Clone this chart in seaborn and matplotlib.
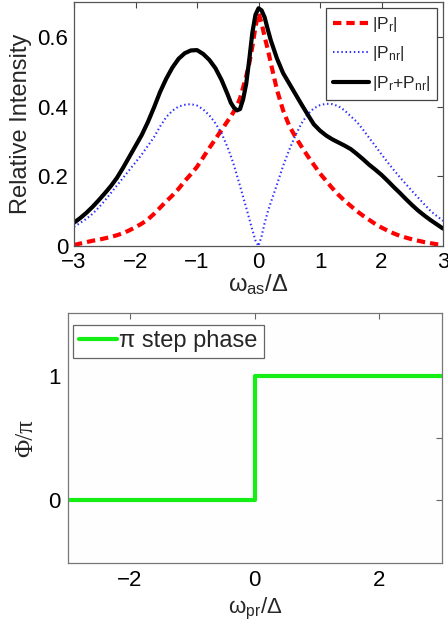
import numpy as np
import pandas as pd
import matplotlib
matplotlib.use("Agg")
import matplotlib.pyplot as plt
import seaborn as sns

# ---------------- data ----------------
omega_as = [-3.0, -2.9, -2.8, -2.7, -2.6, -2.5, -2.4, -2.3, -2.2, -2.1,
            -2.0, -1.9, -1.8, -1.7, -1.6, -1.5, -1.4, -1.3, -1.2, -1.1,
            -1.0, -0.9, -0.8, -0.7, -0.6, -0.5, -0.45, -0.4, -0.35, -0.3,
            -0.25, -0.2, -0.15, -0.1, -0.05, 0.0, 0.05, 0.1, 0.15, 0.2,
            0.3, 0.4, 0.5, 0.6, 0.7, 0.8, 0.9, 1.0, 1.1, 1.2,
            1.3, 1.4, 1.5, 1.6, 1.7, 1.8, 1.9, 2.0, 2.1, 2.2,
            2.3, 2.4, 2.5, 2.6, 2.7, 2.8, 2.9, 3.0]
p_sum = [.067, .080, .095, .112, .131, .151, .172, .196, .225, .256,
         .287, .318, .355, .397, .442, .480, .512, .537, .553, .561,
         .562, .551, .534, .510, .476, .434, .411, .397, .389, .393,
         .421, .465, .535, .612, .663, .682, .676, .656, .622, .590,
         .538, .496, .466, .436, .406, .377, .349, .331, .317, .306,
         .297, .288, .278, .264, .249, .233, .219, .204, .187, .169,
         .152, .134, .117, .101, .087, .074, .062, .050]
p_r = [.003, .007, .011, .015, .018, .022, .026, .031, .037, .045,
       .054, .064, .076, .092, .110, .128, .145, .164, .186, .206,
       .227, .254, .281, .307, .333, .359, .372, .386, .402, .424,
       .455, .487, .524, .572, .628, .668, .640, .600, .565, .525,
       .448, .389, .345, .313, .285, .258, .233, .208, .187, .166,
       .147, .130, .115, .100, .087, .075, .063, .053, .044, .036,
       .029, .024, .019, .015, .011, .008, .005, .003]
p_nr = [.055, .066, .078, .092, .110, .130, .152, .174, .196, .218,
        .240, .262, .287, .312, .343, .370, .388, .400, .405, .407,
        .403, .392, .375, .352, .323, .282, .258, .232, .202, .172,
        .141, .110, .078, .046, .016, .000, .028, .066, .098, .125,
        .176, .230, .276, .317, .352, .378, .395, .404, .408, .407,
        .401, .389, .372, .356, .334, .310, .287, .263, .240, .218,
        .197, .177, .157, .138, .119, .100, .086, .072]

omega_pr = [-3.0, 0.0, 0.0, 3.0]
phase = [0.0, 0.0, 1.0, 1.0]

top_xticks = [-3, -2, -1, 0, 1, 2, 3]
top_yticks = [0, 0.2, 0.4, 0.6]
top_yticklabels = ["0", "0.2", "0.4", "0.6"]
bot_xticks = [-2, 0, 2]
bot_yticks = [0, 0.5, 1]
bot_yticklabels = ["0", "", "1"]

# ---------------- style ----------------
sns.set_style("white")
plt.rcParams["font.family"] = ["Liberation Sans", "DejaVu Sans"]
plt.rcParams["mathtext.fontset"] = "custom"
plt.rcParams["mathtext.rm"] = "Liberation Sans"
plt.rcParams["mathtext.it"] = "Liberation Sans"
plt.rcParams["mathtext.default"] = "regular"

fig = plt.figure(figsize=(4.48, 6.31), dpi=100)
fig.patch.set_facecolor("white")

def minus(t):
    return str(t) if t >= 0 else "\u2212" + str(-t)

# ---------------- top panel ----------------
ax1 = fig.add_axes([74 / 448, 1 - 246 / 631, (443 - 74) / 448, 244 / 631])
df = pd.DataFrame({"x": omega_as, "r": p_r, "nr": p_nr, "sum": p_sum})
sns.lineplot(data=df, x="x", y="r", ax=ax1, color="#ff0000", lw=3.0,
             label="|P$_r$|", estimator=None, sort=False)
ax1.lines[-1].set_dashes((2.0, 1.2))
sns.lineplot(data=df, x="x", y="nr", ax=ax1, color="#3030ff", lw=1.5,
             label="|P$_{nr}$|", estimator=None, sort=False)
ax1.lines[-1].set_linestyle((0, (0.7, 1.3)))
sns.lineplot(data=df, x="x", y="sum", ax=ax1, color="black", lw=3.0,
             label="|P$_r$+P$_{nr}$|", estimator=None, sort=False)
for ln in ax1.lines:
    ln.set_solid_joinstyle("round")
    ln.set_dash_joinstyle("round")

ax1.set_xlim(-3, 3)
ax1.set_ylim(0, 0.7)
ax1.set_xticks(top_xticks)
ax1.set_xticklabels([minus(t) for t in top_xticks])
ax1.set_yticks(top_yticks)
ax1.set_yticklabels(top_yticklabels)
ax1.tick_params(direction="in", length=4, width=0.8, colors="#444444",
                labelcolor="black", labelsize=16, top=True, right=True, pad=4)
for s in ax1.spines.values():
    s.set_color("#555555")
    s.set_linewidth(0.9)
ax1.set_xlabel("\u03c9$_{as}$/\u0394", fontsize=17, labelpad=0)
ax1.set_ylabel("Relative Intensity", fontsize=17, labelpad=4)
leg1 = ax1.legend(loc="upper right", fontsize=12.5, frameon=True, fancybox=False,
                  edgecolor="#444444", framealpha=1, handlelength=2.1,
                  handletextpad=0.15, borderpad=0.4, labelspacing=0.6,
                  bbox_to_anchor=(0.985, 0.975), borderaxespad=0)
leg1.get_frame().set_linewidth(0.9)

# ---------------- bottom panel ----------------
ax2 = fig.add_axes([67.7 / 448, 1 - 562.7 / 631, (441.7 - 67.7) / 448, 249.4 / 631])
ax2.set_facecolor("#fefefe")
dfp = pd.DataFrame({"x": omega_pr, "phi": phase})
sns.lineplot(data=dfp, x="x", y="phi", ax=ax2, color="#14ee14", lw=3.0,
             label="\u03c0 step phase", estimator=None, sort=False)
ax2.set_xlim(-3, 3)
ax2.set_ylim(-0.5, 1.5)
ax2.set_xticks(bot_xticks)
ax2.set_xticklabels([minus(t) for t in bot_xticks])
ax2.set_yticks(bot_yticks)
ax2.set_yticklabels(bot_yticklabels)
ax2.tick_params(direction="in", length=4, width=0.8, colors="#666666",
                labelcolor="black", labelsize=16, top=True, right=True, pad=5)
for s in ax2.spines.values():
    s.set_color("#777777")
    s.set_linewidth(0.9)
ax2.set_xlabel("\u03c9$_{pr}$/\u0394", fontsize=16, labelpad=4)
ax2.set_ylabel("\u03a6/\u03c0", fontsize=18, labelpad=8,
               family=["Liberation Serif", "DejaVu Serif"])
leg2 = ax2.legend(loc="upper left", fontsize=17, frameon=True, fancybox=False,
                  edgecolor="#666666", framealpha=1, handlelength=1.6,
                  handletextpad=0.1, borderpad=0.25,
                  bbox_to_anchor=(0.015, 0.955), borderaxespad=0)
leg2.get_frame().set_linewidth(0.9)

fig.savefig("out.png", dpi=100, facecolor="white")
